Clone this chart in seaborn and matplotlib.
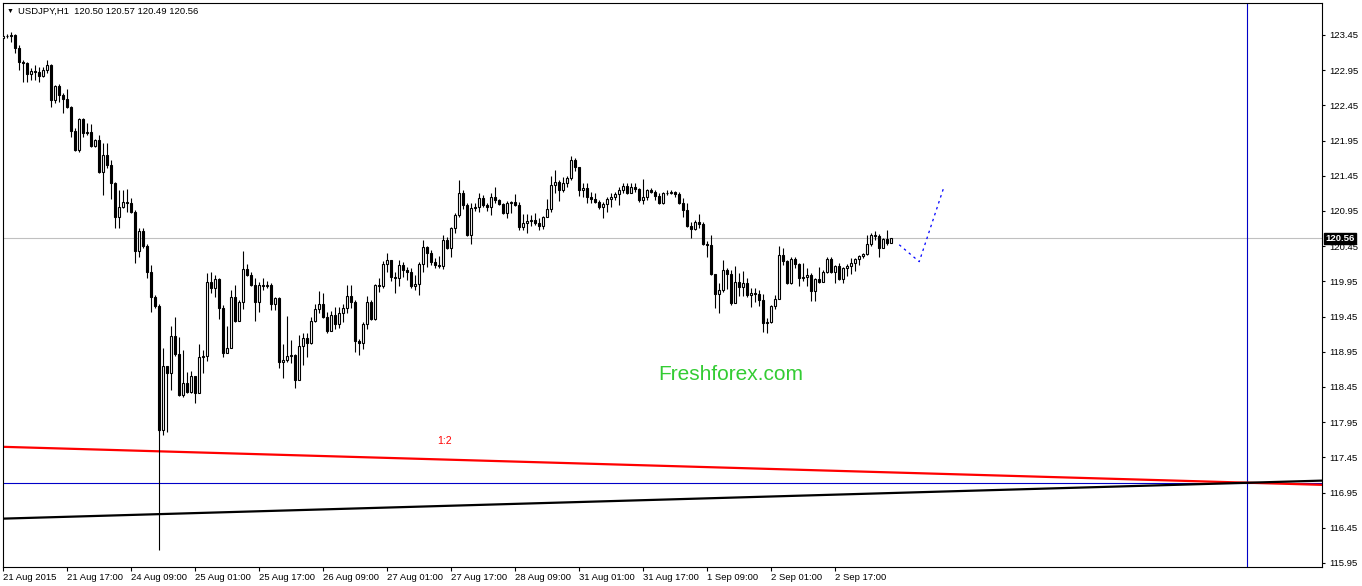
import numpy as np
import pandas as pd
import matplotlib
matplotlib.use("Agg")
import matplotlib.pyplot as plt
import seaborn as sns

# USDJPY H1 candles starting 21 Aug 2015 01:00 (open of each bar = previous close)
first_open = 123.41
closes = [123.44, 123.44, 123.45, 123.27, 123.07, 123.05, 122.90, 122.94, 122.92, 122.87,
          122.95, 123.02, 122.53, 122.73, 122.60, 122.54, 122.43, 122.09, 121.82, 122.26,
          122.06, 122.07, 121.87, 121.96, 121.50, 121.74, 121.60, 121.35, 120.86, 121.01,
          121.08, 121.06, 120.94, 120.38, 120.67, 120.45, 120.08, 119.73, 119.60, 117.84,
          118.75, 118.65, 119.17, 118.92, 118.34, 118.51, 118.38, 118.61, 118.36, 118.88,
          118.89, 119.94, 119.86, 119.98, 119.57, 118.93, 119.00, 119.73, 119.39, 119.66,
          120.13, 120.04, 119.90, 119.66, 119.90, 119.89, 119.90, 119.63, 119.72, 118.80,
          118.83, 118.89, 118.90, 118.55, 119.03, 119.15, 119.07, 119.39, 119.56, 119.63,
          119.44, 119.25, 119.47, 119.35, 119.50, 119.57, 119.74, 119.66, 119.10, 119.07,
          119.35, 119.66, 119.42, 119.90, 119.89, 120.20, 120.25, 120.01, 120.00, 120.18,
          120.11, 120.08, 119.89, 119.91, 120.20, 120.44, 120.35, 120.23, 120.18, 120.17,
          120.54, 120.42, 120.71, 120.89, 121.21, 121.04, 120.61, 120.99, 121.01, 121.13,
          121.04, 121.01, 121.15, 121.11, 121.05, 120.92, 121.06, 121.08, 121.04, 120.72,
          120.78, 120.81, 120.82, 120.78, 120.74, 120.86, 120.98, 121.32, 121.36, 121.25,
          121.35, 121.42, 121.67, 121.58, 121.25, 121.28, 121.15, 121.12, 121.08, 121.01,
          121.05, 121.12, 121.15, 121.19, 121.25, 121.30, 121.21, 121.29, 121.26, 121.11,
          121.15, 121.25, 121.22, 121.16, 121.06, 121.21, 121.21, 121.22, 121.19, 121.06,
          120.96, 120.73, 120.69, 120.79, 120.76, 120.48, 120.47, 120.06, 119.77, 119.83,
          120.11, 120.06, 119.64, 119.94, 119.87, 119.93, 119.76, 119.79, 119.77, 119.69,
          119.36, 119.37, 119.60, 119.70, 120.32, 120.24, 119.93, 120.27, 120.20, 120.00,
          120.01, 120.04, 119.81, 119.98, 119.94, 120.08, 120.27, 120.08, 120.17, 119.98,
          120.14, 120.17, 120.21, 120.27, 120.31, 120.34, 120.48, 120.61, 120.59, 120.42,
          120.55, 120.50, 120.56]
highs = [123.45, 123.46, 123.49, 123.46, 123.31, 123.09, 123.07, 122.98, 123.02, 122.99,
         122.99, 123.09, 123.04, 122.74, 122.75, 122.63, 122.68, 122.44, 122.13, 122.27,
         122.27, 122.20, 122.19, 121.97, 122.03, 121.92, 121.92, 121.67, 121.36, 121.25,
         121.25, 121.26, 121.13, 120.96, 120.71, 120.71, 120.48, 120.18, 119.76, 119.63,
         119.00, 118.75, 119.32, 119.44, 119.16, 118.98, 118.66, 118.68, 118.61, 119.06,
         118.98, 120.07, 120.08, 120.04, 120.00, 119.62, 119.32, 119.83, 119.90, 119.69,
         120.38, 120.20, 120.08, 120.00, 119.94, 120.00, 119.96, 119.93, 119.73, 119.73,
         119.06, 119.46, 119.12, 118.92, 119.19, 119.22, 119.22, 119.44, 119.63, 119.81,
         119.79, 119.52, 119.53, 119.59, 119.59, 119.63, 119.90, 119.90, 119.69, 119.13,
         119.37, 119.74, 119.69, 119.91, 120.00, 120.24, 120.35, 120.25, 120.08, 120.25,
         120.23, 120.16, 120.14, 120.04, 120.23, 120.54, 120.45, 120.40, 120.28, 120.31,
         120.61, 120.58, 120.72, 120.92, 121.39, 121.25, 121.06, 121.06, 121.06, 121.21,
         121.18, 121.06, 121.21, 121.29, 121.12, 121.06, 121.09, 121.09, 121.19, 121.08,
         120.91, 120.91, 120.89, 120.92, 120.85, 120.88, 121.12, 121.45, 121.53, 121.39,
         121.43, 121.45, 121.73, 121.70, 121.58, 121.35, 121.35, 121.22, 121.21, 121.11,
         121.08, 121.15, 121.21, 121.22, 121.29, 121.35, 121.35, 121.35, 121.35, 121.28,
         121.40, 121.26, 121.28, 121.25, 121.21, 121.22, 121.25, 121.25, 121.23, 121.22,
         121.13, 121.06, 120.79, 120.82, 120.91, 120.79, 120.52, 120.61, 120.06, 119.93,
         120.25, 120.14, 120.11, 120.17, 120.07, 120.10, 120.00, 119.86, 119.86, 119.83,
         119.77, 119.43, 119.62, 119.76, 120.45, 120.42, 120.25, 120.30, 120.30, 120.21,
         120.21, 120.14, 120.07, 120.00, 120.16, 120.11, 120.30, 120.30, 120.18, 120.21,
         120.16, 120.20, 120.28, 120.28, 120.32, 120.35, 120.61, 120.64, 120.67, 120.62,
         120.57, 120.68, 120.57]
lows = [123.39, 123.41, 123.35, 123.19, 122.95, 122.78, 122.78, 122.81, 122.81, 122.78,
        122.85, 122.91, 122.43, 122.48, 122.50, 122.34, 122.41, 122.00, 121.80, 121.79,
        122.00, 122.03, 121.86, 121.86, 121.49, 121.18, 121.56, 121.12, 120.71, 120.71,
        120.99, 120.94, 120.92, 120.21, 120.30, 120.42, 120.00, 119.52, 119.57, 117.81,
        117.77, 117.81, 118.41, 118.89, 118.32, 118.31, 118.36, 118.36, 118.22, 118.36,
        118.65, 118.82, 119.79, 119.73, 119.42, 118.88, 118.93, 119.00, 119.37, 119.39,
        119.56, 120.03, 119.89, 119.39, 119.52, 119.83, 119.86, 119.54, 119.54, 118.72,
        118.58, 118.80, 118.79, 118.44, 118.55, 118.76, 118.88, 119.06, 119.37, 119.50,
        119.43, 119.22, 119.25, 119.27, 119.29, 119.37, 119.50, 119.57, 118.95, 118.90,
        118.99, 119.27, 119.40, 119.40, 119.80, 119.86, 120.08, 119.96, 119.79, 119.89,
        120.01, 119.97, 119.86, 119.83, 119.76, 120.08, 120.15, 120.18, 120.14, 120.14,
        120.13, 120.41, 120.30, 120.64, 120.86, 120.98, 120.60, 120.48, 120.95, 120.94,
        121.01, 120.95, 120.89, 121.06, 121.04, 120.91, 120.85, 120.92, 121.02, 120.68,
        120.68, 120.64, 120.74, 120.75, 120.68, 120.69, 120.86, 120.94, 121.21, 121.09,
        121.22, 121.29, 121.39, 121.52, 121.16, 121.15, 121.06, 121.06, 121.06, 120.98,
        120.85, 120.94, 121.01, 121.11, 121.04, 121.21, 121.19, 121.21, 121.22, 121.08,
        121.05, 121.11, 121.21, 121.11, 121.05, 121.05, 121.18, 121.19, 121.15, 121.05,
        120.86, 120.72, 120.57, 120.68, 120.71, 120.47, 120.30, 120.04, 119.57, 119.50,
        119.80, 119.84, 119.62, 119.64, 119.74, 119.74, 119.73, 119.59, 119.66, 119.60,
        119.23, 119.22, 119.36, 119.56, 119.70, 120.18, 119.91, 119.91, 120.14, 119.89,
        119.96, 119.89, 119.67, 119.67, 119.93, 119.94, 120.07, 120.07, 119.93, 119.97,
        119.93, 120.03, 120.06, 120.10, 120.18, 120.28, 120.32, 120.45, 120.54, 120.30,
        120.42, 120.47, 120.49]

time_labels = ['21 Aug 2015', '21 Aug 17:00', '24 Aug 09:00', '25 Aug 01:00',
               '25 Aug 17:00', '26 Aug 09:00', '27 Aug 01:00', '27 Aug 17:00',
               '28 Aug 09:00', '31 Aug 01:00', '31 Aug 17:00', '1 Sep 09:00',
               '2 Sep 01:00', '2 Sep 17:00']
price_ticks = [115.95, 116.45, 116.95, 117.45, 117.95, 118.45, 118.95,
               119.45, 119.95, 120.45, 120.95, 121.45, 121.95, 122.45, 122.95, 123.45]

bid = 120.56
# trend lines drawn across the whole chart (start bar, end bar)
trend_x = [-0.1, 329.7]
red_trend = [117.60, 117.06]
black_trend = [116.58, 117.12]
blue_level = 117.09
blue_bar = 311
spike_bar = 39
spike_bottom = 116.13
# dotted forecast path
forecast_x = [224, 229, 235]
forecast_y = [120.47, 120.23, 121.26]

opens = [first_open] + closes[:-1]
df = pd.DataFrame({'open': opens, 'high': highs, 'low': lows, 'close': closes})
df['bar'] = np.arange(len(df))
up = df['close'] >= df['open']

sns.set_style("white")
plt.rcParams['font.family'] = ['Liberation Sans', 'DejaVu Sans']

fig = plt.figure(figsize=(13.62, 5.86), dpi=100)
ax = fig.add_axes([2.5 / 1362, 1 - 567 / 586, 1319.5 / 1362, 564.5 / 586])

# candles
ax.vlines(df['bar'], df['low'], df['high'], color='black', lw=0.8, zorder=3)
ax.bar(df['bar'][up], (df['close'] - df['open'])[up], bottom=df['open'][up], width=0.55,
       color='white', edgecolor='black', lw=0.8, zorder=4)
ax.bar(df['bar'][~up], (df['close'] - df['open'])[~up], bottom=df['open'][~up], width=0.55,
       color='black', edgecolor='black', lw=0.8, zorder=4)

# objects on the chart
ax.axhline(bid, color='#c0c0c0', lw=0.8, zorder=1)
ax.axhline(blue_level, color='#0000c8', lw=0.8, zorder=2)
ax.axvline(blue_bar, color='#0000c8', lw=0.8, zorder=2)
ax.vlines(spike_bar, spike_bottom, df['close'][spike_bar], color='black', lw=0.8, zorder=3)
sns.lineplot(x=trend_x, y=red_trend, color='#ff0000', lw=1.6, ax=ax, zorder=2)
sns.lineplot(x=trend_x, y=black_trend, color='black', lw=1.6, ax=ax, zorder=2)
sns.lineplot(x=forecast_x, y=forecast_y, color='#0000ff', lw=0.9, ax=ax,
             linestyle=(0, (2, 3)), zorder=3)

ax.set_xlim(-0.2, 329.7)
ax.set_ylim(115.893, 123.911)

for s in ax.spines.values():
    s.set_color('black')
    s.set_linewidth(0.8)

ax.yaxis.tick_right()
ax.set_yticks(price_ticks)
ax.set_yticklabels([f'{p:.2f}' for p in price_ticks])
ax.tick_params(axis='y', direction='out', length=2.5, width=0.8, pad=2.5,
               labelsize=6.8, colors='black', right=True, left=False)
ax.set_xticks(np.arange(0, 16 * len(time_labels), 16))
ax.set_xticklabels(time_labels, ha='left')
ax.tick_params(axis='x', direction='out', length=3, width=0.8, pad=1,
               labelsize=6.8, colors='black', bottom=True)
ax.set_xlabel('')
ax.set_ylabel('')

# current price box on the scale
ax.text(1.0028, bid, f'{bid:.2f}', transform=ax.get_yaxis_transform(), ha='left', va='center',
        color='white', fontsize=6.8, fontweight='bold', clip_on=False, zorder=10,
        bbox=dict(boxstyle='square,pad=0.15', facecolor='black', edgecolor='black'))

# header
fig.text(7 / 1362, 1 - 11 / 586, '▼', fontsize=5, va='center', ha='left', color='black')
fig.text(18 / 1362, 1 - 11 / 586,
         f"USDJPY,H1  {opens[-1]:.2f} {highs[-1]:.2f} {lows[-1]:.2f} {closes[-1]:.2f}",
         fontsize=6.8, va='center', ha='left', color='black')

fig.text(437 / 1362, 1 - 444 / 586, '1:2', fontsize=7.5, color='#ff0000', ha='left', va='baseline')
fig.text(731 / 1362, 1 - 380 / 586, 'Freshforex.com', fontsize=15, color='#33cc33',
         ha='center', va='baseline')

fig.savefig('out.png', dpi=100)
